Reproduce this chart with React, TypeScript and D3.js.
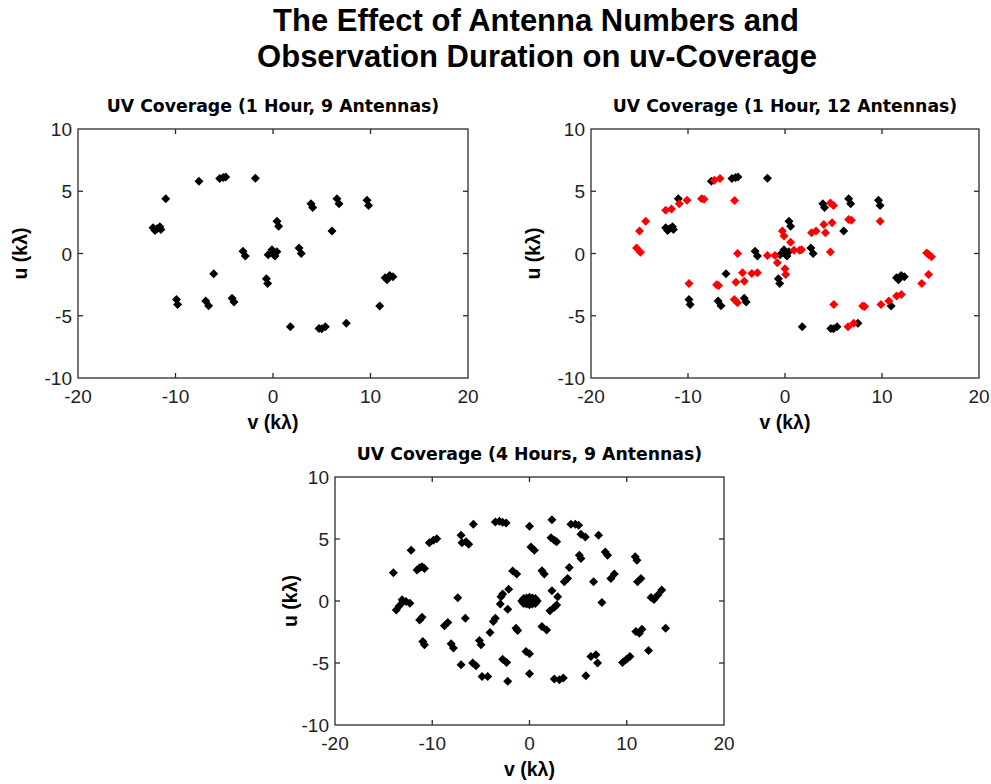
import React from "react";
import * as d3 from "d3";

const mainTitle = ["The Effect of Antenna Numbers and", "Observation Duration on uv-Coverage"];
const subTitles = [
  "UV Coverage (1 Hour, 9 Antennas)",
  "UV Coverage (1 Hour, 12 Antennas)",
  "UV Coverage (4 Hours, 9 Antennas)",
];
const xTicks = [-20, -10, 0, 10, 20];
const yTicks = [-10, -5, 0, 5, 10];
const xLabel = "v (kλ)";
const yLabel = "u (kλ)";

// 1 hour, 9 antennas (v, u)
const hour1Ant9: [number, number][] = [
  [-11.0, 4.39], [-7.59, 5.8], [-5.47, 6.02], [-5.1, 6.1], [-4.85, 6.15], [-1.81, 6.04],
  [-12.3, 2.06], [-11.9, 1.98], [-11.6, 2.14], [-11.5, 1.92], [-12.1, 1.85],
  [0.41, 2.6], [0.58, 2.19],
  [-3.08, 0.19], [-2.84, -0.21],
  [-0.5, -0.1], [-0.1, 0.3], [0.2, -0.2], [0.4, 0.15], [0, 0],
  [2.67, 0.45], [2.9, 0],
  [3.9, 4.0], [4.07, 3.7],
  [6.56, 4.39], [6.77, 4.0],
  [9.64, 4.28], [9.8, 3.85],
  [6.05, 1.8],
  [-6.08, -1.63],
  [-0.68, -2.03], [-0.55, -2.4],
  [-9.9, -3.7], [-9.78, -4.1],
  [-6.9, -3.82], [-6.6, -4.2],
  [-4.2, -3.6], [-4.0, -3.9],
  [1.78, -5.88],
  [4.72, -6.02], [5.0, -6.05], [5.37, -5.88],
  [7.52, -5.6],
  [10.94, -4.22],
  [11.5, -1.95], [11.97, -1.76], [12.3, -1.87], [11.7, -2.1],
];

// extra baselines from the 3 added antennas (red)
const hour1Extra: [number, number][] = [
  [-15.3, 0.45], [-14.9, 0.1], [-15.0, 1.8], [-14.36, 2.6], [-12.3, 3.48], [-11.7, 3.58],
  [-10.9, 4.0], [-10.1, 4.28], [-8.6, 4.4], [-8.35, 4.35], [-7.28, 5.88], [-6.7, 6.02],
  [-5.2, 4.25], [-4.89, 0], [-9.9, -2.4], [-7.05, -2.5], [-6.85, -2.58], [-5.23, -3.7],
  [-4.9, -3.96], [-5.06, -2.3], [-4.38, -1.55], [-4.2, -2.22], [-3.42, -1.6], [-2.84, -1.55],
  [-1.81, -0.16], [-1.03, -0.16], [-0.79, -0.75], [-0.27, 1.8], [-0.1, 1.4], [0, -1.23],
  [0.07, -1.68], [0.58, 0.9], [0.92, 0.27], [1.5, 0.27], [1.7, 0.3], [2.74, 1.66],
  [3.2, 1.8], [4.0, 2.33], [4.17, 1.66], [4.68, 4.06], [5.0, 3.85], [4.85, 2.46],
  [4.68, 0.13], [5.03, -4.09], [6.56, 2.73], [6.84, 2.67], [6.5, -5.88], [7.08, -5.6],
  [8.0, -4.22], [8.2, -4.25], [9.81, 2.6], [9.9, -4.09], [10.7, -3.82], [11.5, -3.42],
  [12.0, -3.29], [14.1, -2.4], [14.8, -1.68], [14.6, 0.05], [14.8, -0.08], [15.1, -0.27],
];

// 4 hours, 9 antennas
const hour4Ant9: [number, number][] = [
  [-14.0, 2.28], [-12.17, 4.1], [-10.3, 4.69], [-9.88, 4.9], [-9.54, 5.03],
  [-11.56, 2.49], [-11.3, 2.68], [-11.05, 2.76], [-10.8, 2.62],
  [-7.04, 5.3], [-6.94, 4.69], [-6.52, 4.77], [-6.25, 4.58],
  [-5.77, 6.18],
  [-3.51, 6.37], [-3.1, 6.43], [-2.76, 6.35], [-2.4, 6.3],
  [0, 6.02],
  [0.15, 4.36], [0.5, 4.1],
  [-1.73, 2.41], [-1.32, 2.17],
  [-13.7, -0.72], [-13.4, -0.4], [-13.0, -0.05], [-12.7, -0.05], [-12.3, -0.19], [-13.1, 0.1],
  [-7.38, 0.27],
  [-11.3, -1.53], [-11.05, -1.31],
  [-8.75, -2.0], [-8.4, -1.74],
  [-6.6, -1.39],
  [-10.97, -3.27], [-10.8, -3.53],
  [-8.06, -3.45], [-7.82, -3.8],
  [-7.04, -5.14],
  [-5.84, -5.0], [-5.5, -5.22],
  [-5.15, -3.19], [-4.98, -3.53],
  [-4.88, -6.08], [-4.3, -6.08],
  [-4.06, -2.54], [-3.72, -1.66], [-3.51, -1.39],
  [-2.76, -4.69], [-2.35, -4.95],
  [-2.24, -6.48],
  [-2.93, 0.35], [-2.76, 0.56], [-2.14, 0.94],
  [-3.0, -0.24], [-2.24, -0.67],
  [-1.39, -2.2], [-1.22, -2.38],
  [-0.36, -4.07], [0, -4.26],
  [0, -5.86],
  [2.31, 6.56],
  [4.26, 6.18], [4.71, 6.18], [5.05, 6.1],
  [2.21, 5.11], [2.55, 4.9], [2.79, 4.77],
  [5.29, 5.38], [5.74, 5.17],
  [7.1, 5.3],
  [5.12, 3.69], [5.29, 3.43],
  [7.79, 3.96], [8.03, 3.69],
  [10.87, 3.56], [11.05, 3.29],
  [1.28, 2.44], [1.52, 2.17],
  [4.09, 2.7],
  [3.58, 1.55], [3.92, 1.82],
  [6.59, 1.55],
  [8.37, 1.82], [8.72, 2.17],
  [11.11, 1.55], [11.46, 1.82],
  [2.31, 0.83],
  [2.9, 0.35], [2.79, -0.32], [2.55, -0.51],
  [2.1, -0.78],
  [7.45, -0.13],
  [12.5, 0.29], [12.8, 0.13], [13.2, 0.48], [13.6, 0.88],
  [1.28, -2.06], [1.76, -2.33],
  [10.94, -2.46], [11.3, -2.6], [11.56, -2.28],
  [14.0, -2.2],
  [6.32, -4.47], [6.83, -4.34], [7.0, -5.0],
  [9.57, -4.95], [9.98, -4.69], [10.33, -4.47],
  [12.24, -3.99],
  [2.55, -6.29], [3.07, -6.35], [3.48, -6.21],
  [5.8, -6.02],
  [-0.8, 0], [-0.6, 0.2], [-0.6, -0.2], [-0.3, 0.25], [-0.3, -0.25], [0, 0.3], [0, -0.3],
  [0.3, 0.25], [0.3, -0.25], [0.6, 0.2], [0.6, -0.2], [0.8, 0], [0, 0], [-0.3, 0], [0.3, 0],
];

type Series = { data: [number, number][]; color: string };

const FONT = "'Liberation Sans', Arial, Helvetica, sans-serif";
const SUBFONT = "'DejaVu Sans', Verdana, sans-serif";

function Panel({ x0, x1, y0, y1, title, series, ylabX }: {
  x0: number; x1: number; y0: number; y1: number; title: string; series: Series[]; ylabX: number;
}) {
  const xs = d3.scaleLinear().domain([-20, 20]).range([x0, x1]);
  const ys = d3.scaleLinear().domain([-10, 10]).range([y1, y0]);
  const r = 4.5;
  const diamond = `M0,${-r}L${r},0L0,${r}L${-r},0Z`;
  const tk = 5;
  const axisColor = "#2b2b2b";
  const cx = (x0 + x1) / 2;
  const cy = (y0 + y1) / 2;
  return (
    <g>
      <text x={cx} y={y0 - 17} textAnchor="middle" fontFamily={SUBFONT} fontWeight="bold" fontSize={17.3} fill="#000">{title}</text>
      {series.map((s, si) => (
        <g key={si} fill={s.color}>
          {s.data.map((d, i) => (
            <path key={i} d={diamond} transform={`translate(${xs(d[0])},${ys(d[1])})`} />
          ))}
        </g>
      ))}
      <rect x={x0} y={y0} width={x1 - x0} height={y1 - y0} fill="none" stroke={axisColor} strokeWidth={1.3} />
      {xTicks.map((t) => (
        <g key={"x" + t}>
          {t > -20 && t < 20 && (
            <>
              <line x1={xs(t)} x2={xs(t)} y1={y1} y2={y1 - tk} stroke={axisColor} strokeWidth={1.3} />
              <line x1={xs(t)} x2={xs(t)} y1={y0} y2={y0 + tk} stroke={axisColor} strokeWidth={1.3} />
            </>
          )}
          <text x={xs(t)} y={y1 + 25} textAnchor="middle" fontFamily={FONT} fontSize={19} fill="#222">{t}</text>
        </g>
      ))}
      {yTicks.map((t) => (
        <g key={"y" + t}>
          {t > -10 && t < 10 && (
            <>
              <line x1={x0} x2={x0 + tk} y1={ys(t)} y2={ys(t)} stroke={axisColor} strokeWidth={1.3} />
              <line x1={x1} x2={x1 - tk} y1={ys(t)} y2={ys(t)} stroke={axisColor} strokeWidth={1.3} />
            </>
          )}
          <text x={x0 - 6} y={ys(t) + 7} textAnchor="end" fontFamily={FONT} fontSize={19} fill="#222">{t}</text>
        </g>
      ))}
      <text x={cx} y={y1 + 51} textAnchor="middle" fontFamily={FONT} fontWeight="bold" fontSize={19.5} fill="#000">{xLabel}</text>
      <text transform={`translate(${ylabX},${cy}) rotate(-90)`} textAnchor="middle" fontFamily={FONT} fontWeight="bold" fontSize={19.5} fill="#000">{yLabel}</text>
    </g>
  );
}

export default function App() {
  return (
    <svg width={991} height={784} style={{ position: "absolute", left: 0, top: 0, background: "#fff" }}>
      <rect width={991} height={784} fill="#fff" />
      <text x={536} y={31} textAnchor="middle" fontFamily={FONT} fontWeight="bold" fontSize={31} fill="#000">{mainTitle[0]}</text>
      <text x={537} y={67} textAnchor="middle" fontFamily={FONT} fontWeight="bold" fontSize={31} fill="#000">{mainTitle[1]}</text>
      <Panel x0={78} x1={468} y0={129} y1={378} title={subTitles[0]} ylabX={27}
        series={[{ data: hour1Ant9, color: "#000" }]} />
      <Panel x0={591} x1={979} y0={129} y1={378} title={subTitles[1]} ylabX={540}
        series={[{ data: hour1Ant9, color: "#000" }, { data: hour1Extra, color: "#ff0000" }]} />
      <Panel x0={335} x1={724} y0={477} y1={725} title={subTitles[2]} ylabX={297}
        series={[{ data: hour4Ant9, color: "#000" }]} />
    </svg>
  );
}
